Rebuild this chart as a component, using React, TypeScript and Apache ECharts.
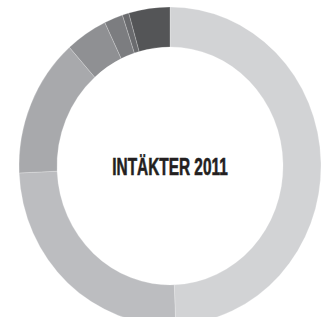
import React, { useEffect, useRef } from "react";
import * as echarts from "echarts";

const categories = ["Segment A", "Segment B", "Segment C", "Segment D", "Segment E", "Segment F", "Segment G"];
const values = [49.4, 24.9, 14.1, 4.5, 2.0, 0.7, 4.4];
const colors = ["#d2d3d5", "#bcbdc0", "#a8a9ac", "#8f9093", "#7c7d80", "#6a6b6e", "#545557"];
const title = "INTÄKTER 2011";

const STRETCH = 1.053;
const W = 322;
const H = Math.round(317 / STRETCH);

export default function App() {
  const ref = useRef<HTMLDivElement>(null);
  useEffect(() => {
    if (!ref.current) return;
    const chart = echarts.init(ref.current, null, { renderer: "svg" });
    chart.setOption({
      animation: false,
      backgroundColor: "#ffffff",
      series: [
        {
          type: "pie",
          center: [170, 157.6],
          radius: [113, 151],
          startAngle: 90,
          clockwise: true,
          silent: true,
          label: { show: false },
          labelLine: { show: false },
          emphasis: { disabled: true },
          itemStyle: { borderColor: "rgba(255,255,255,0.45)", borderWidth: 0.5 },
          data: categories.map((name, i) => ({
            name,
            value: values[i],
            itemStyle: { color: colors[i] },
          })),
        },
      ],
      graphic: [
        {
          type: "text",
          x: 170,
          y: 158,
          scaleX: 0.77,
          scaleY: 1.14,
          silent: true,
          style: {
            text: title,
            fill: "#231f20",
            stroke: "#231f20",
            lineWidth: 0.5,
            font: 'bold 20px "Liberation Sans", Arial, sans-serif',
            textAlign: "center",
            textVerticalAlign: "middle",
          },
        },
      ],
    });
    return () => chart.dispose();
  }, []);
  return (
    <div
      ref={ref}
      style={{
        position: "absolute",
        left: 0,
        top: 0,
        width: W + "px",
        height: H + "px",
        transform: `scaleY(${STRETCH})`,
        transformOrigin: "0 0",
      }}
    />
  );
}
